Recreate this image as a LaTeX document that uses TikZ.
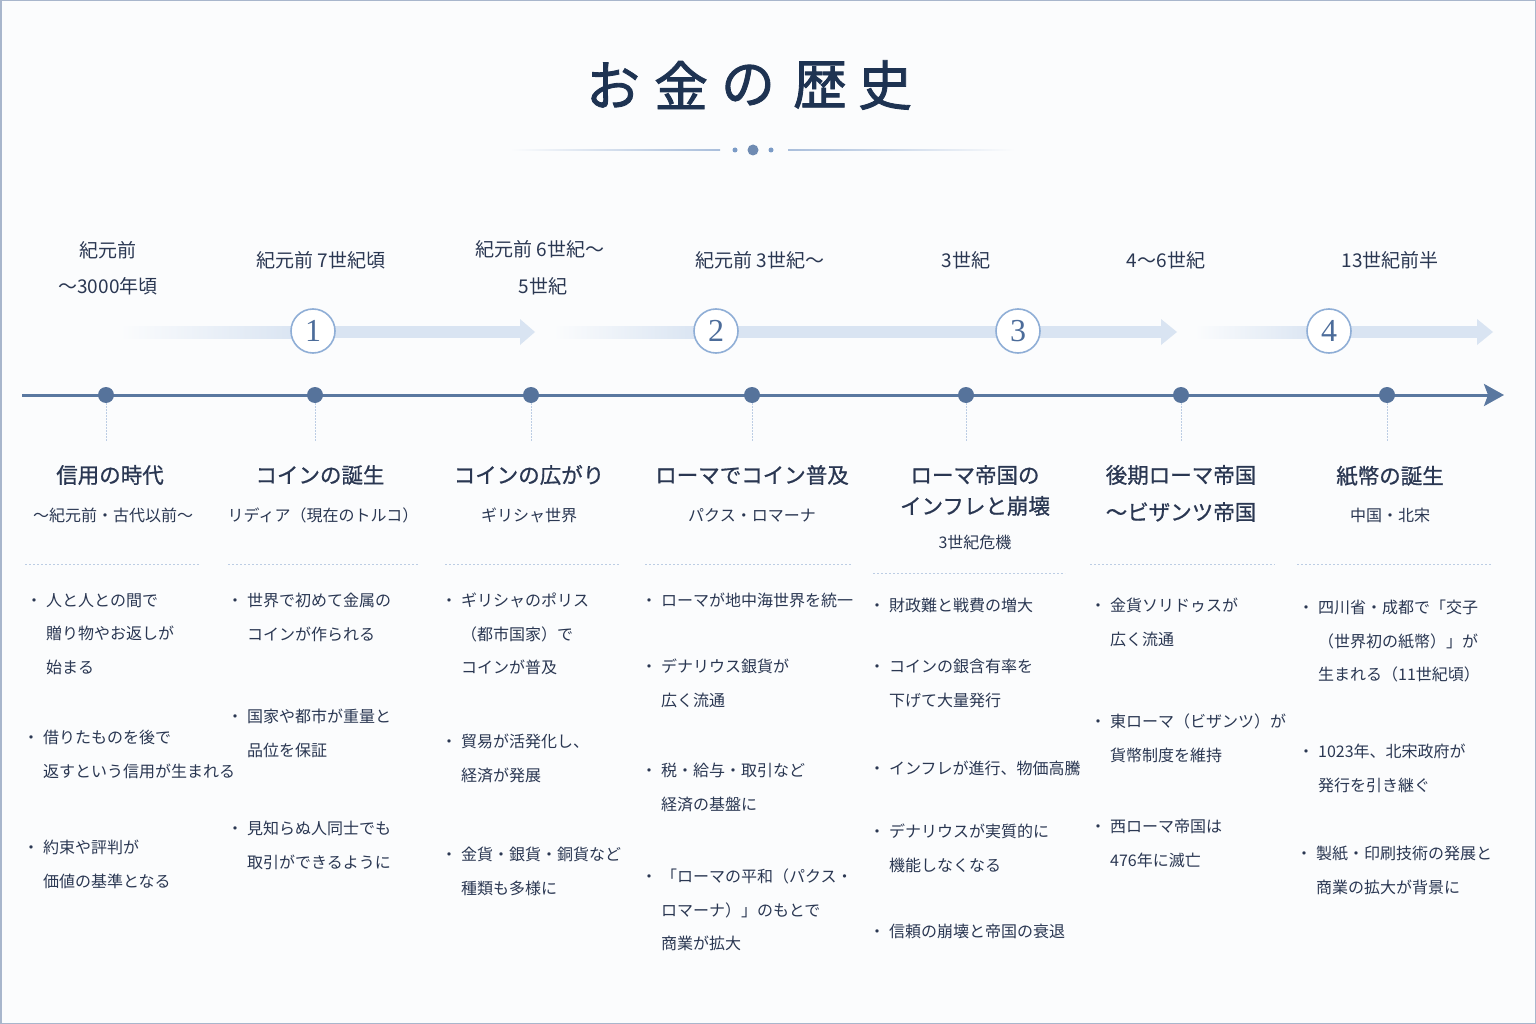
\documentclass[tikz,border=0pt]{standalone}
\usepackage{fontspec}
\setmainfont{Noto Sans CJK JP}
\newfontfamily\jpmed{Noto Sans CJK JP}[FakeBold=0.8]
\newfontfamily\jptitle{Noto Sans CJK JP}[FakeBold=1.6]
\newfontfamily\numfont{Liberation Serif}
\usetikzlibrary{arrows.meta}
\definecolor{navy}{HTML}{1E3352}
\definecolor{txt}{HTML}{2A3752}
\definecolor{tl}{HTML}{5A78A0}
\definecolor{dotc}{HTML}{56739B}
\definecolor{band}{HTML}{D9E4F2}
\definecolor{ring}{HTML}{8FAED6}
\definecolor{numc}{HTML}{4C6C9A}
\definecolor{sep}{HTML}{BCCDE4}
\definecolor{framec}{HTML}{A8B6CC}
\definecolor{bg}{HTML}{FBFCFD}
\definecolor{divc}{HTML}{A9BEDB}
\definecolor{divdot}{HTML}{7B9BC6}
\newcommand{\blt}{\makebox[0pt][r]{・\kern4pt}}
\begin{document}
\begin{tikzpicture}[x=1pt,y=-1pt,
  titlech/.style={font=\jptitle\fontsize{54}{60}\selectfont, text=navy, inner sep=0},
  datelbl/.style={font=\fontsize{19}{24}\selectfont, text=txt, inner sep=0},
  head/.style={font=\jpmed\fontsize{21.5}{26}\selectfont, text=txt, inner sep=0},
  subhead/.style={font=\fontsize{16}{20}\selectfont, text=txt, inner sep=0},
  item/.style={anchor=north west, align=left, font=\fontsize{16}{33.5}\selectfont, text=txt, inner sep=0},
  numcirc/.style={circle, draw=ring, line width=1.6pt, fill=white, minimum size=44pt, inner sep=0, font=\numfont\fontsize{32}{32}\selectfont, text=numc},
  tdot/.style={circle, fill=dotc, minimum size=16pt, inner sep=0},
  sepline/.style={draw=sep, line width=0.9pt, dash pattern=on 2pt off 2pt},
  vline/.style={draw=sep, line width=0.9pt, dash pattern=on 1.5pt off 1.5pt}
]
\useasboundingbox (0,0) rectangle (1536,1024);
\fill[bg] (0,0) rectangle (1536,1024);
\draw[framec, line width=1.5pt] (0.75,0.75) rectangle (1535.25,1023.25);

% title
\node[titlech] (t1) at (613,85) {お};
\node[titlech] (t2) at (681,85) {金};
\node[titlech] (t3) at (748,85) {の};
\node[titlech] (t4) at (820,85) {歴};
\node[titlech] (t5) at (885,85) {史};

% divider
\shade[left color=bg, right color=divc] (510,149.4) rectangle (720,150.8);
\shade[left color=divc, right color=bg] (788,149.4) rectangle (1015,150.8);
\fill[divdot] (735,150) circle (2.5);
\fill[divdot] (771,150) circle (2.5);
\fill[divdot!90!black] (753,150) circle (5.5);

% dates
\node[datelbl] (dt1a) at (108,250) {紀元前};
\node[datelbl] (dt1b) at (108,286) {～3000年頃};
\node[datelbl] (dt2) at (321,260) {紀元前 7世紀頃};
\node[datelbl] (dt3a) at (540,249) {紀元前 6世紀～};
\node[datelbl] (dt3b) at (543,286) {5世紀};
\node[datelbl] (dt4) at (760,260) {紀元前 3世紀～};
\node[datelbl] (dt5) at (966,260) {3世紀};
\node[datelbl] (dt6) at (1166,260) {4～6世紀};
\node[datelbl] (dt7) at (1390,260) {13世紀前半};

% bands
\shade[left color=bg, right color=band] (120,326) rectangle (300,338);
\fill[band] (299.5,326) rectangle (520,338);
\fill[band] (520,319) -- (535,332) -- (520,345) -- cycle;
\shade[left color=bg, right color=band] (553,326) rectangle (700,338);
\fill[band] (699.5,326) rectangle (1161,338);
\fill[band] (1161,319) -- (1177,332) -- (1161,345) -- cycle;
\shade[left color=bg, right color=band] (1195,326) rectangle (1320,338);
\fill[band] (1319.5,326) rectangle (1477,338);
\fill[band] (1477,319) -- (1493,332) -- (1477,345) -- cycle;

\node[numcirc] (c1) at (313,331) {1};
\node[numcirc] (c2) at (716,331) {2};
\node[numcirc] (c3) at (1018,331) {3};
\node[numcirc] (c4) at (1329,331) {4};

% timeline
\coordinate (tls) at (22,395);
\coordinate (tle) at (1504,395);
\draw[tl, line width=3pt, -{Stealth[length=20pt,width=22pt,inset=4pt]}] (tls) -- (tle);
\foreach \i/\x in {1/106,2/315,3/531,4/752,5/966,6/1181,7/1387}{
  \node[tdot] (d\i) at (\x,395) {};
  \coordinate (v\i) at (\x,442);
  \draw[vline] (d\i.south) -- (v\i);
}

% headers
\node[head] (h1) at (110,475) {信用の時代};
\node[subhead] (s1) at (113,515) {～紀元前・古代以前～};
\node[head] (h2) at (320,475) {コインの誕生};
\node[subhead] (s2) at (323,515) {リディア（現在のトルコ）};
\node[head] (h3) at (529,475) {コインの広がり};
\node[subhead] (s3) at (529,515) {ギリシャ世界};
\node[head] (h4) at (752,475) {ローマでコイン普及};
\node[subhead] (s4) at (752,515) {パクス・ロマーナ};
\node[head] (h5a) at (975,475) {ローマ帝国の};
\node[head] (h5b) at (975,506) {インフレと崩壊};
\node[subhead] (s5) at (975,542) {3世紀危機};
\node[head] (h6a) at (1181,475) {後期ローマ帝国};
\node[head] (h6b) at (1181,512) {～ビザンツ帝国};
\node[head] (h7) at (1390,476) {紙幣の誕生};
\node[subhead] (s7) at (1390,515) {中国・北宋};

% separators
\draw[sepline] (25,564) -- (200,564);
\draw[sepline] (228,564) -- (418,564);
\draw[sepline] (445,564) -- (620,564);
\draw[sepline] (645,564) -- (852,564);
\draw[sepline] (873,573) -- (1065,573);
\draw[sepline] (1090,564) -- (1275,564);
\draw[sepline] (1297,564) -- (1492,564);

% column 1
\node[item] (i11) at (46,593) {\blt 人と人との間で\\贈り物やお返しが\\始まる};
\node[item] (i12) at (43,730) {\blt 借りたものを後で\\返すという信用が生まれる};
\node[item] (i13) at (43,840) {\blt 約束や評判が\\価値の基準となる};
% column 2
\node[item] (i21) at (247,593) {\blt 世界で初めて金属の\\コインが作られる};
\node[item] (i22) at (247,709) {\blt 国家や都市が重量と\\品位を保証};
\node[item] (i23) at (247,821) {\blt 見知らぬ人同士でも\\取引ができるように};
% column 3
\node[item] (i31) at (461,593) {\blt ギリシャのポリス\\（都市国家）で\\コインが普及};
\node[item] (i32) at (461,734) {\blt 貿易が活発化し、\\経済が発展};
\node[item] (i33) at (461,847) {\blt 金貨・銀貨・銅貨など\\種類も多様に};
% column 4
\node[item] (i41) at (661,593) {\blt ローマが地中海世界を統一};
\node[item] (i42) at (661,659) {\blt デナリウス銀貨が\\広く流通};
\node[item] (i43) at (661,763) {\blt 税・給与・取引など\\経済の基盤に};
\node[item] (i44) at (661,869) {\blt 「ローマの平和（パクス・\\ロマーナ）」のもとで\\商業が拡大};
% column 5
\node[item] (i51) at (889,598) {\blt 財政難と戦費の増大};
\node[item] (i52) at (889,659) {\blt コインの銀含有率を\\下げて大量発行};
\node[item] (i53) at (889,761) {\blt インフレが進行、物価高騰};
\node[item] (i54) at (889,824) {\blt デナリウスが実質的に\\機能しなくなる};
\node[item] (i55) at (889,924) {\blt 信頼の崩壊と帝国の衰退};
% column 6
\node[item] (i61) at (1110,598) {\blt 金貨ソリドゥスが\\広く流通};
\node[item] (i62) at (1110,714) {\blt 東ローマ（ビザンツ）が\\貨幣制度を維持};
\node[item] (i63) at (1110,819) {\blt 西ローマ帝国は\\476年に滅亡};
% column 7
\node[item] (i71) at (1318,600) {\blt 四川省・成都で「交子\\（世界初の紙幣）」が\\生まれる（11世紀頃）};
\node[item] (i72) at (1318,744) {\blt 1023年、北宋政府が\\発行を引き継ぐ};
\node[item] (i73) at (1316,846) {\blt 製紙・印刷技術の発展と\\商業の拡大が背景に};
\end{tikzpicture}
\end{document}
